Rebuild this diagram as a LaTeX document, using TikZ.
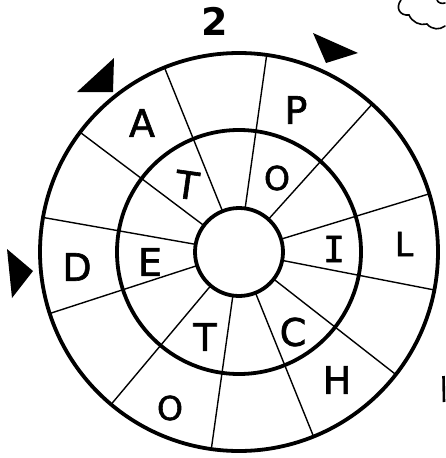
\documentclass[tikz,border=0pt]{standalone}
\usepackage{fontspec}
\setmainfont{DejaVu Sans}
\newfontfamily\letfont[FakeBold=1.6]{DejaVu Sans}
\newfontfamily\monofont[FakeBold=1.6]{DejaVu Sans Mono}
\usetikzlibrary{calc}
\tikzset{
  ring/.style={line width=3.8pt},
  spoke/.style={line width=1.4pt},
  let/.style={font=\letfont\fontsize{38}{38}\selectfont, inner sep=0pt, anchor=center},
  smalllet/.style={font=\letfont\fontsize{33}{33}\selectfont, inner sep=0pt, anchor=center},
  tri/.style={fill=black},
  scrap/.style={line width=1.6pt, line cap=round}
}
\begin{document}
\begin{tikzpicture}[x=1pt,y=-1pt]
\useasboundingbox (0,0) rectangle (445,458);
\coordinate (c) at (239,252);
% spokes
\foreach \a in {112,82,48,17,-11,-38,-68,-98,-130,-162,170,143}
  \draw[spoke] ($(c)+(\a:44pt)$) -- ($(c)+(\a:199pt)$);
% rings
\draw[ring] (c) circle[radius=199pt];
\draw[ring] (c) circle[radius=122pt];
\draw[ring] (c) circle[radius=44pt];
% arrow triangles
\fill[tri] (77,92) -- (114,58) -- (113,92) -- cycle;
\fill[tri] (313,33) -- (358,53) -- (326,63) -- cycle;
\fill[tri] (7,249) -- (33,271) -- (12,298) -- cycle;
% number
\node[font=\bfseries\fontsize{38}{38}\selectfont, inner sep=0pt] (two) at (215,21) {2};
% outer letters
\node[let] (oA) at (142,123) {A};
\node[let] (oP) at (296,110) {P};
\node[let, font=\letfont\fontsize{33}{33}\selectfont] (oL) at (404,244) {L};
\node[let] (oH) at (337,380) {H};
\node[smalllet] (oO) at (170,408) {O};
\node[let] (oD) at (77,267) {D};
% inner letters
\node[let, rotate=-8] (iT1) at (187,185) {T};
\node[smalllet] (iO) at (277,178) {O};
\node[let, font=\monofont\fontsize{36}{36}\selectfont] (iI) at (334,249) {I};
\node[let] (iE) at (150,262) {E};
\node[let] (iC) at (293,332) {C};
\node[let] (iT2) at (205,337) {T};
% fragments at the edges
\draw[scrap] (401,0) .. controls (395,8) and (400,16) .. (409,15)
  .. controls (412,22) and (420,26) .. (427,24)
  .. controls (432,30) and (440,30) .. (445,26);
\draw[scrap] (437,0) .. controls (438,3) and (442,4) .. (445,3);
\draw[line width=2.6pt] (443.5,376) -- (444,402);
\end{tikzpicture}
\end{document}
